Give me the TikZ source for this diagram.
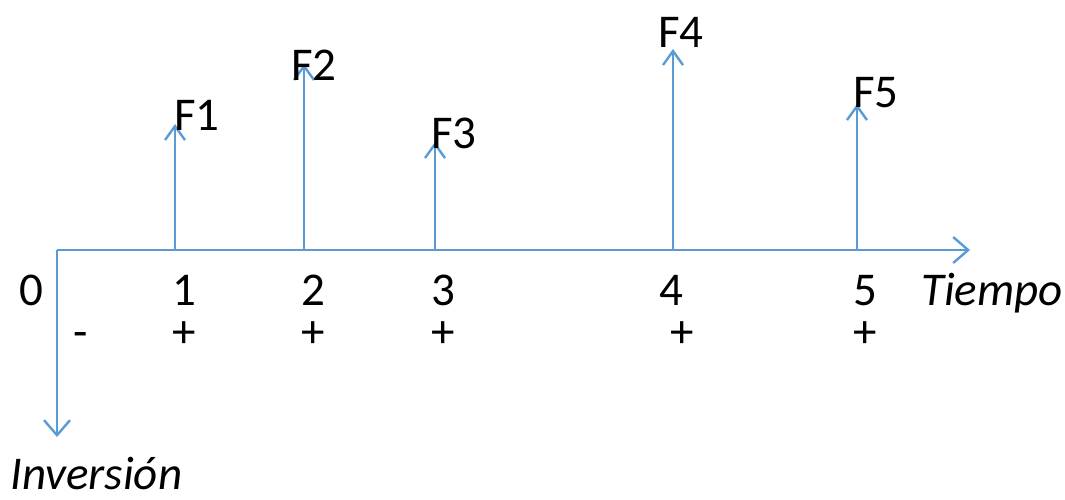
\documentclass[tikz,border=0pt]{standalone}
\usepackage{fontspec}
\setmainfont{Carlito}
\usetikzlibrary{arrows.meta}
\definecolor{axblue}{RGB}{91,155,213}
\tikzset{
  flow/.style={draw=axblue, line width=2.8pt, -{Straight Barb[length=14pt,width=20pt,line width=2.4pt]}},
  axis/.style={draw=axblue, line width=2.8pt, -{Straight Barb[length=15pt,width=26pt,line width=2.4pt]}},
  lbl/.style={inner sep=0pt, anchor=base west, font=\fontsize{47}{50}\selectfont},
  num/.style={inner sep=0pt, anchor=base, font=\fontsize{47}{50}\selectfont},
  itlbl/.style={lbl, font=\fontsize{47}{50}\selectfont\itshape},
}
\begin{document}
\begin{tikzpicture}[x=1pt,y=-1pt]
\useasboundingbox (0,0) rectangle (1065,499);
\coordinate (o) at (57,250);
\coordinate (xe) at (970,250);
\coordinate (ye) at (57,437);
\coordinate (t1) at (175,250);
\coordinate (t2) at (304,250);
\coordinate (t3) at (435,250);
\coordinate (t4) at (673,250);
\coordinate (t5) at (857,250);
\coordinate (f1) at (175,124);
\coordinate (f2) at (304,64);
\coordinate (f3) at (435,142);
\coordinate (f4) at (673,49);
\coordinate (f5) at (857,104);
\draw[axis] (o) -- (xe);
\draw[axis] (o) -- (ye);
\foreach \i in {1,...,5} {\draw[flow] (t\i) -- (f\i);}
\node[lbl] (F1) at (174,130) {F1};
\node[lbl] (F2) at (291,80) {F2};
\node[lbl] (F3) at (431,148) {F3};
\node[lbl] (F4) at (658,47) {F4};
\node[lbl] (F5) at (853,107) {F5};
\node[num] (n0) at (31,305) {0};
\node[num] (n1) at (184,305) {1};
\node[num] (n2) at (313,305) {2};
\node[num] (n3) at (443,305) {3};
\node[num] (n4) at (671,305) {4};
\node[num] (n5) at (865,305) {5};
\node[itlbl] (tiempo) at (921,305) {Tiempo};
\node[num] (m0) at (81,347) {-};
\node[num] (p1) at (184,347) {+};
\node[num] (p2) at (313,347) {+};
\node[num] (p3) at (443,347) {+};
\node[num] (p4) at (682,347) {+};
\node[num] (p5) at (865,347) {+};
\node[itlbl] (inv) at (10,489) {Inversión};
\end{tikzpicture}
\end{document}
